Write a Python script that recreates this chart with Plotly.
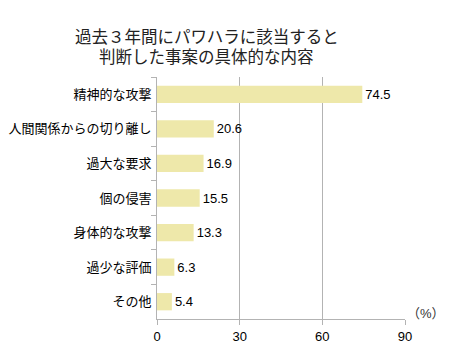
import plotly.graph_objects as go

categories = ["精神的な攻撃", "人間関係からの切り離し", "過大な要求", "個の侵害", "身体的な攻撃", "過少な評価", "その他"]
values = [74.5, 20.6, 16.9, 15.5, 13.3, 6.3, 5.4]
x_ticks = [0, 30, 60, 90]
title_lines = ["過去３年間にパワハラに該当すると", "判断した事案の具体的な内容"]

font_family = "Liberation Sans, Noto Sans CJK JP, sans-serif"

# the page body has an 8px margin, so the figure is sized to fill the rest of the window
fig = go.Figure(go.Bar(
    y=categories, x=values, orientation="h",
    marker=dict(color="#EEE8AA", line=dict(width=0)),
    width=0.5,
    text=[f"{v:.1f}" for v in values], textposition="outside",
    textfont=dict(size=13, color="#000000"),
    cliponaxis=False,
))

title_annos = [
    dict(text=title_lines[0], x=0.2016, xref="paper", y=1.165, yref="paper",
         xanchor="center", yanchor="middle", showarrow=False,
         font=dict(size=16.5, color="#222222")),
    dict(text=title_lines[1], x=0.2016, xref="paper", y=1.083, yref="paper",
         xanchor="center", yanchor="middle", showarrow=False,
         font=dict(size=16.5, color="#222222")),
]

fig.update_layout(
    width=442, height=353,
    margin=dict(l=149, r=45, t=69, b=42, autoexpand=False),
    paper_bgcolor="white", plot_bgcolor="white",
    font=dict(family=font_family, size=13, color="#000000"),
    showlegend=False,
    xaxis=dict(range=[0, 90], tickvals=x_ticks, showgrid=True, gridcolor="#B3B3B3", gridwidth=1,
               showline=True, linecolor="#B3B3B3", ticks="outside", ticklen=5, tickcolor="#B3B3B3",
               zeroline=False, tickfont=dict(size=13, color="#000000"), automargin=False),
    yaxis=dict(autorange="reversed", showline=True, linecolor="#B3B3B3", ticks="outside",
               tickson="boundaries", ticklen=5, tickcolor="#B3B3B3", showgrid=False,
               tickfont=dict(size=13, color="#000000"), automargin=False, ticklabelstandoff=2),
    annotations=title_annos + [
        dict(text="（%）", x=1.085, xref="paper", y=0, yref="paper", xanchor="center",
             yanchor="middle", showarrow=False, font=dict(size=13, color="#333333"),
             yshift=6)],
)

fig.write_html("out.html")
